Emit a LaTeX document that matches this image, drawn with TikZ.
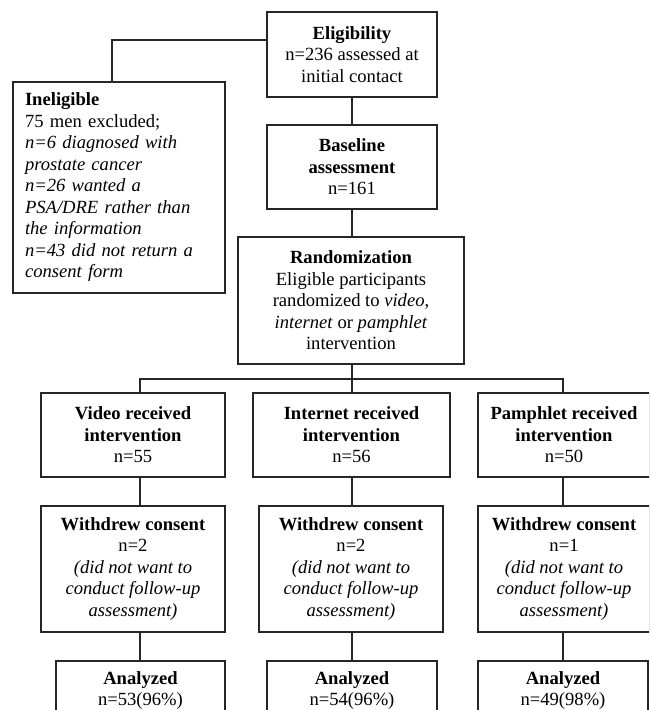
\documentclass[tikz,border=0pt]{standalone}
\usepackage{fontspec}
\setmainfont{Liberation Serif}
\begin{document}
\begin{tikzpicture}[x=1pt,y=-1pt,
  box/.style={draw=black!85, line width=1.2pt, inner sep=0pt, align=center,
    font=\fontsize{18.6}{21.5}\selectfont},
  conn/.style={draw=black!85, line width=1.2pt}]
\useasboundingbox (0,0) rectangle (649,710);
\clip (0,0) rectangle (649,710);

% top column
\node[box, minimum width=170, minimum height=85] (elig) at (352,54.5)
  {\textbf{Eligibility}\\n=236 assessed at\\initial contact};
\node[box, minimum width=170, minimum height=84] (base) at (352,167)
  {\textbf{Baseline}\\\textbf{assessment}\\n=161};
\node[box, minimum width=226, minimum height=127] (rand) at (351,300.5)
  {\textbf{Randomization}\\Eligible participants\\randomized to \textit{video},\\\textit{internet} or \textit{pamphlet}\\intervention};

% ineligible
\node[box, minimum height=211, text width=188, inner xsep=12, align=left] (inel) at (119,187.5)
  {\textbf{Ineligible}\\75 men excluded;\\\textit{n=6 diagnosed with}\\\textit{prostate cancer}\\\textit{n=26 wanted a}\\\textit{PSA/DRE rather than}\\\textit{the information}\\\textit{n=43 did not return a}\\\textit{consent form}};

% received
\node[box, minimum width=184, minimum height=84] (vid) at (133,435)
  {\textbf{Video received}\\\textbf{intervention}\\n=55};
\node[box, minimum width=197, minimum height=84] (int) at (351.5,435)
  {\textbf{Internet received}\\\textbf{intervention}\\n=56};
\node[box, minimum width=172, minimum height=84] (pam) at (564,435)
  {\textbf{Pamphlet received}\\\textbf{intervention}\\n=50};

% withdrew
\node[box, minimum width=184, minimum height=126] (vwd) at (133,569)
  {\textbf{Withdrew consent}\\n=2\\\textit{(did not want to}\\\textit{conduct follow-up}\\\textit{assessment)}};
\node[box, minimum width=184, minimum height=126] (iwd) at (351,569)
  {\textbf{Withdrew consent}\\n=2\\\textit{(did not want to}\\\textit{conduct follow-up}\\\textit{assessment)}};
\node[box, minimum width=172, minimum height=126] (pwd) at (564,569)
  {\textbf{Withdrew consent}\\n=1\\\textit{(did not want to}\\\textit{conduct follow-up}\\\textit{assessment)}};

% analyzed
\node[box, minimum width=169, minimum height=59] (van) at (140.5,690.5)
  {\textbf{Analyzed}\\n=53(96\%)};
\node[box, minimum width=170, minimum height=59] (ian) at (352,690.5)
  {\textbf{Analyzed}\\n=54(96\%)};
\node[box, minimum width=170, minimum height=59] (pan) at (563,690.5)
  {\textbf{Analyzed}\\n=49(98\%)};

% connectors
\coordinate (e1) at (267,40);
\draw[conn] (e1) -| ([xshift=-7pt]inel.north);
\draw[conn] (elig.south) -- (base.north);
\draw[conn] (base.south) -- (base.south |- rand.north);
\coordinate (bus) at (352,379);
\coordinate (vx) at (140,0);
\coordinate (px) at (563,0);
\draw[conn] (rand.south -| bus) -- (bus);
\draw[conn] (vx |- vid.north) |- (bus) -| (px |- pam.north);
\draw[conn] (bus) -- (bus |- int.north);
\draw[conn] (vx |- vid.south) -- (vx |- vwd.north);
\draw[conn] (vx |- vwd.south) -- (vx |- van.north);
\draw[conn] (int.south -| bus) -- (bus |- iwd.north);
\draw[conn] (iwd.south -| bus) -- (bus |- ian.north);
\draw[conn] (px |- pam.south) -- (px |- pwd.north);
\draw[conn] (px |- pwd.south) -- (px |- pan.north);
\end{tikzpicture}
\end{document}
